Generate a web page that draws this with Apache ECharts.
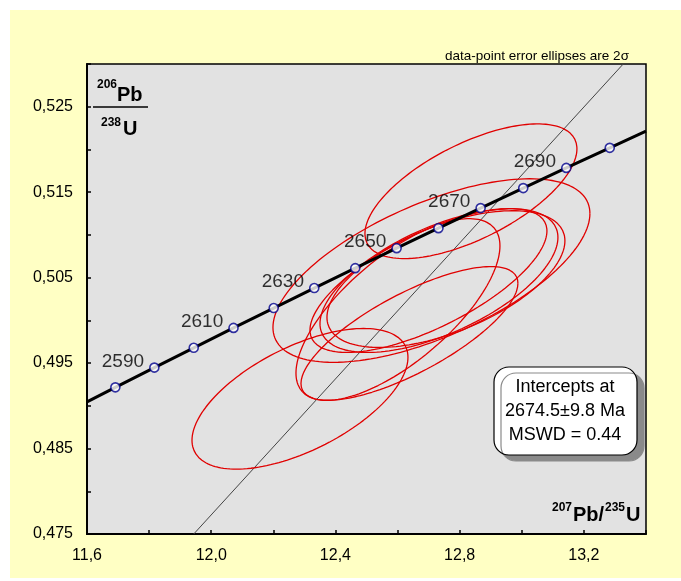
<!DOCTYPE html>
<html>
<head>
<meta charset="utf-8">
<script src="https://cdn.jsdelivr.net/npm/echarts@6/dist/echarts.min.js"></script>
<style>
html,body{margin:0;padding:0;background:#fff;}
#c{width:681px;height:581px;}
</style>
</head>
<body>
<div id="c"></div>
<script>
// ---- data ----
// concordia reference ages (Ma) and their ratios
var concAges = [2580, 2590, 2600, 2610, 2620, 2630, 2640, 2650, 2660, 2670, 2680, 2690, 2700];
var concX = [11.6913, 11.8169, 11.9437, 12.0718, 12.2012, 12.3318, 12.4638, 12.5970, 12.7316, 12.8675, 13.0047, 13.1433, 13.2833];
var concY = [0.49216, 0.49447, 0.49679, 0.49912, 0.50144, 0.50378, 0.50611, 0.50845, 0.51079, 0.51314, 0.51548, 0.51784, 0.52019];
// concordia curve ends at the plot edges
var concStart = [11.6, 0.49046];
var concEnd = [13.4, 0.52214];
// discordia (through origin and the 2674.5 Ma intercept)
var discX = [11.9437, 13.3266];
var discY = [0.475, 0.530];
// error ellipses (2 sigma): centre, half extents, correlation
var ellCX  = [12.8363, 12.2858, 12.7091, 12.6013, 12.6383, 12.6995, 12.7333, 12.7558];
var ellCY  = [0.51511, 0.49082, 0.50583, 0.50127, 0.49847, 0.50466, 0.50466, 0.50483];
var ellSX  = [0.3413, 0.3477, 0.5103, 0.3284, 0.3493, 0.3815, 0.3831, 0.3831];
var ellSY  = [0.00788, 0.00823, 0.01074, 0.01063, 0.00782, 0.00841, 0.00841, 0.00800];
var ellRho = [0.63, 0.59, 0.62, 0.70, 0.75, 0.69, 0.60, 0.56];
// axis ticks
var xTicks = ['11,6', '12,0', '12,4', '12,8', '13,2'];
var yTicks = ['0,475', '0,485', '0,495', '0,505', '0,515', '0,525'];
var infoLines = ['Intercepts at', '2674.5\u00b19.8 Ma', 'MSWD = 0.44'];

var FONT = '"Liberation Sans", Arial, sans-serif';

function ellipsePoints(i) {
  var pts = [], n = 160, s = Math.sqrt(1 - ellRho[i] * ellRho[i]);
  for (var k = 0; k <= n; k++) {
    var t = 2 * Math.PI * k / n;
    pts.push([ellCX[i] + ellSX[i] * Math.cos(t),
              ellCY[i] + ellSY[i] * (ellRho[i] * Math.cos(t) + s * Math.sin(t))]);
  }
  return pts;
}

var series = [];
for (var i = 0; i < ellCX.length; i++) {
  series.push({
    type: 'line', data: ellipsePoints(i), showSymbol: false, symbol: 'none',
    lineStyle: {color: '#E00000', width: 1.3}, z: 3, silent: true, clip: true
  });
}
series.push({
  type: 'line', data: [[discX[0], discY[0]], [discX[1], discY[1]]],
  showSymbol: false, symbol: 'none', lineStyle: {color: '#444', width: 1}, z: 2, silent: true
});
var concLine = [concStart];
for (var j = 0; j < concAges.length; j++) concLine.push([concX[j], concY[j]]);
concLine.push(concEnd);
series.push({
  type: 'line', data: concLine, showSymbol: false, symbol: 'none',
  lineStyle: {color: '#000', width: 3}, z: 4, silent: true
});
series.push({
  type: 'scatter', z: 5, symbol: 'circle', symbolSize: 9,
  itemStyle: {color: '#fff', borderColor: '#00008C', borderWidth: 1.6},
  data: concAges.map(function (a, k) {
    return {value: [concX[k], concY[k]],
            label: {show: a % 20 === 10, formatter: String(a)}};
  }),
  label: {position: 'left', distance: 5, offset: [0, -6], color: '#000', fontSize: 19, fontFamily: FONT},
  silent: true
});

var chart = echarts.init(document.getElementById('c'));
var sup = {fontSize: 12, fontWeight: 'bold', fontFamily: FONT, fill: '#000'};
var big = {fontSize: 20, fontWeight: 'bold', fontFamily: FONT, fill: '#000'};
function txt(x, y, s, st, align) {
  return {type: 'text', x: x, y: y, z: 50,
    style: Object.assign({text: s, textAlign: align || 'left', textVerticalAlign: 'middle'}, st)};
}
chart.setOption({
  backgroundColor: '#FFFFC4',
  animation: false,
  grid: {left: 87, right: 35, top: 64, bottom: 47, show: true,
         backgroundColor: '#E2E2E2', borderColor: '#000', borderWidth: 1.5},
  xAxis: {
    type: 'value', min: 11.6, max: 13.4, interval: 0.2,
    axisLine: {show: true, lineStyle: {color: '#000', width: 2}},
    axisTick: {show: true, inside: true, length: 4, lineStyle: {color: '#000', width: 1.5}},
    splitLine: {show: false},
    axisLabel: {fontSize: 16, fontFamily: FONT, color: '#000', margin: 14,
      formatter: function (v) {
        var k = Math.round((v - 11.6) / 0.4);
        return Math.abs((v - 11.6) / 0.4 - k) < 1e-6 ? xTicks[k] : '';
      }}
  },
  yAxis: {
    type: 'value', min: 0.475, max: 0.530, interval: 0.005,
    axisLine: {show: true, lineStyle: {color: '#000', width: 2}},
    axisTick: {show: true, inside: true, length: 4, lineStyle: {color: '#000', width: 1.5}},
    splitLine: {show: false},
    axisLabel: {fontSize: 16, fontFamily: FONT, color: '#000', margin: 14,
      formatter: function (v) {
        var k = Math.round((v - 0.475) / 0.01);
        return Math.abs((v - 0.475) / 0.01 - k) < 1e-6 ? yTicks[k] : '';
      }}
  },
  series: series,
  graphic: [
    {type: 'rect', shape: {x: 0, y: 0, width: 681, height: 10}, style: {fill: '#fff'}, z: 60},
    {type: 'rect', shape: {x: 0, y: 0, width: 10, height: 581}, style: {fill: '#fff'}, z: 60},
    {type: 'rect', shape: {x: 0, y: 578, width: 681, height: 3}, style: {fill: '#fff'}, z: 60},
    txt(537, 56, 'data-point error ellipses are 2\u03c3', {fontSize: 13.5, fontFamily: FONT, fill: '#000'}, 'center'),
    // y-axis title 206Pb / 238U
    txt(97, 85, '206', sup),
    txt(117, 95, 'Pb', big),
    {type: 'line', shape: {x1: 93, y1: 107, x2: 148, y2: 107}, style: {stroke: '#000', lineWidth: 1.5}, z: 50},
    txt(101, 123, '238', sup),
    txt(123, 129, 'U', big),
    // x-axis title 207Pb/235U
    txt(552, 508, '207', sup),
    txt(573, 515, 'Pb/', big),
    txt(605, 508, '235', sup),
    txt(626, 515, 'U', big),
    // intercept box
    {type: 'rect', shape: {x: 494, y: 367, width: 143, height: 88, r: 15}, z: 40,
     style: {fill: '#fff', stroke: '#000', lineWidth: 1.2, shadowColor: '#8a8a8a', shadowOffsetX: 7, shadowOffsetY: 6, shadowBlur: 0}},
    txt(565, 387, infoLines[0], {fontSize: 18, fontFamily: FONT, fill: '#000'}, 'center'),
    txt(565, 411, infoLines[1], {fontSize: 18, fontFamily: FONT, fill: '#000'}, 'center'),
    txt(565, 435, infoLines[2], {fontSize: 18, fontFamily: FONT, fill: '#000'}, 'center')
  ]
});
</script>
</body>
</html>
